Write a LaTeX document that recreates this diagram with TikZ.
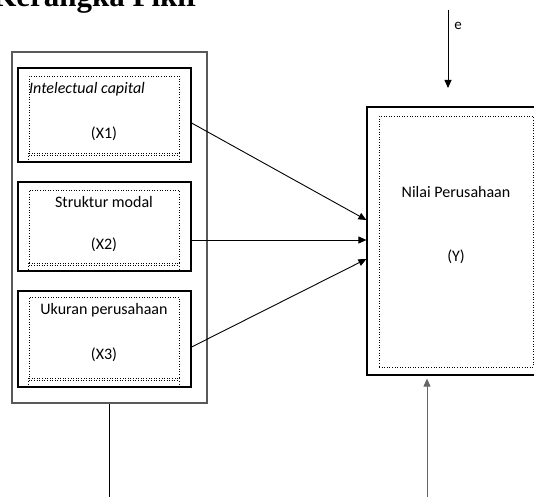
\documentclass[tikz,border=0pt]{standalone}
\usepackage{fontspec}
\setmainfont{Carlito}
\newfontfamily\judulfont{Liberation Serif}
\usetikzlibrary{arrows.meta}

\begin{document}
\begin{tikzpicture}[x=1pt, y=-1pt, >={Triangle[length=8pt,width=7pt]},
    box/.style={draw, line width=1.2pt, minimum width=173pt},
    dotbox/.style={draw, dotted, line width=0.6pt, minimum width=150pt},
    txt/.style={font=\fontsize{16}{19}\selectfont, inner sep=0pt},
    arr/.style={->, line width=0.9pt}]
    \useasboundingbox (0,0) rectangle (534,497);
    \node[anchor=base east, inner sep=0pt, font=\judulfont\bfseries\fontsize{31}{36}\selectfont] (judul) at (200,7) {Kerangka Pikir};

    % variabel bebas
    \node[draw=gray!70!black, line width=1.5pt, minimum width=195pt, minimum height=351pt] (bebas) at (109.5,227.5) {};
    \node[box, minimum height=94pt] (x1) at (104.5,115) {};
    \node[box, minimum height=89pt] (x2) at (104.5,226.5) {};
    \node[box, minimum height=96pt] (x3) at (104.5,339) {};
    \node[dotbox, minimum height=77pt] (d1) at (104,114.5) {};
    \node[dotbox, minimum height=73pt] (d2) at (104,226.5) {};
    \node[dotbox, minimum height=81pt] (d3) at (104,337.5) {};
    \foreach \d in {d1,d2,d3} {
      \draw[dotted, line width=0.6pt] ([yshift=-1.5pt]\d.south west) -- ([yshift=-1.5pt]\d.south east);
      \draw[dotted, line width=0.6pt] (\d.south west) -- ++(0,8) (\d.south east) -- ++(0,8);
    }
    \node[txt, anchor=west, font=\fontsize{16}{19}\selectfont\itshape] (t1) at (29,89) {Intelectual capital};
    \node[txt] (k1) at (104,133.5) {(X1)};
    \node[txt] (t2) at (104,202) {Struktur modal};
    \node[txt] (k2) at (104,245) {(X2)};
    \node[txt] (t3) at (104,310) {Ukuran perusahaan};
    \node[txt] (k3) at (104,354.5) {(X3)};

    % variabel terikat
    \node[draw, line width=1.2pt, minimum width=178pt, minimum height=268pt] (y) at (456,241) {};
    \node[draw, dotted, line width=0.6pt, minimum width=154pt, minimum height=251pt] (dy) at (456,241.5) {};
    \node[txt] (ty) at (456,192) {Nilai Perusahaan};
    \node[txt] (ky) at (456,257) {(Y)};

    \draw[arr] ([yshift=-8pt]x1.east) -- ([yshift=21pt]y.west);
    \draw[arr] ([yshift=-13.5pt]x2.east) -- ([yshift=1pt]y.west);
    \draw[arr] ([yshift=-8pt]x3.east) -- ([yshift=-18pt]y.west);

    % error dan garis bawah
    \coordinate (eatas) at (448,10);
    \coordinate (ebawah) at (448,88);
    \coordinate (fbawah) at (427,497);
    \draw[arr] (eatas) -- (ebawah);
    \node[txt, font=\fontsize{15}{18}\selectfont] (e) at (458,26) {e};
    \draw[arr, gray!80!black] (fbawah) -- ([yshift=-3pt]fbawah |- y.south);
    \draw[line width=0.9pt] (bebas.south) -- (bebas.south |- fbawah);
\end{tikzpicture}
\end{document}
